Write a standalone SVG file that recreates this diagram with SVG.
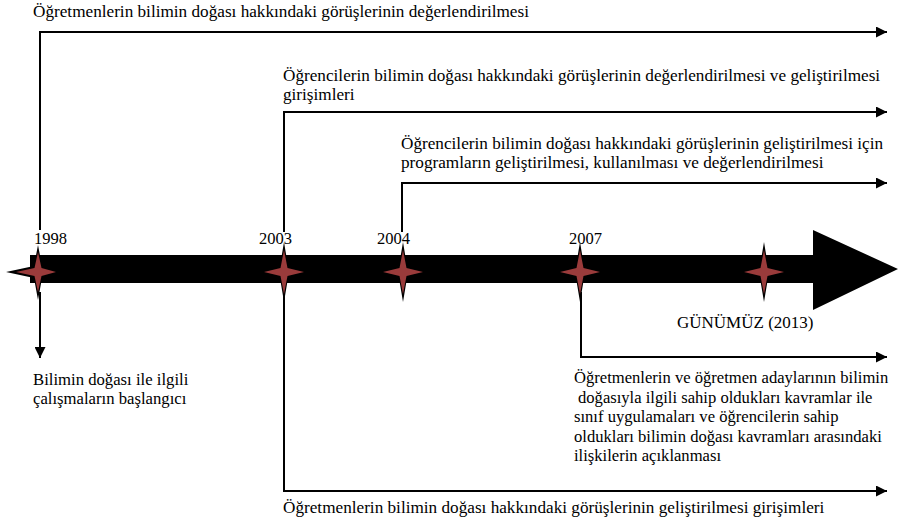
<svg xmlns="http://www.w3.org/2000/svg" width="906" height="523" viewBox="0 0 906 523">
<defs>
<style>
.c{fill:none;stroke:#000;stroke-width:2}
.st{fill:#9a3b3b}
</style>
<marker id="ah" viewBox="0 0 10 10" refX="10" refY="5" markerWidth="11" markerHeight="11" markerUnits="userSpaceOnUse" orient="auto">
<path d="M0,0 L10,5 L0,10 Z" fill="#000"/>
</marker>
<g id="star">
<path d="M0,-30 L4,-6 L22,0 L4,6 L0,30 L-4,6 L-22,0 L-4,-6 Z" fill="#000"/>
<path class="st" d="M0,-22 L3.5,-4 L20,0 L3.5,4 L0,22 L-3.5,4 L-20,0 L-3.5,-4 Z"/>
</g>
</defs>
<rect width="906" height="523" fill="#fff"/>
<g id="timeline">
<path d="M30,255 L813,255 L813,230 L898,269 L813,310 L813,283 L30,283 Z" fill="#000"/>
</g>
<g id="connectors">
<path class="c" d="M40,230 L40,32 L887,32" marker-end="url(#ah)"/>
<path class="c" d="M40,292 L40,358" marker-end="url(#ah)"/>
<path class="c" d="M284,232 L284,112 L887,112" marker-end="url(#ah)"/>
<path class="c" d="M284,292 L284,491 L887,491" marker-end="url(#ah)"/>
<path class="c" d="M402,232 L402,183 L887,183" marker-end="url(#ah)"/>
<path class="c" d="M581,292 L581,357 L887,357" marker-end="url(#ah)"/>
</g>
<g font-family="Liberation Serif, serif" font-size="17.2" fill="#000">
<g id="n1998">
<g transform="translate(38,272)">
<path d="M0,-27 L4,-6 L20,0 L4,6 L0,28 L-4,6 L-32,0 L-4,-6 Z" fill="#000"/>
<path class="st" d="M0,-20 L3.5,-4 L18,0 L3.5,4 L0,20 L-3.5,4 L-22,0 L-3.5,-4 Z"/>
</g>
<text x="34" y="244" font-size="16.5">1998</text>
</g>
<g id="n2003"><use href="#star" x="284" y="272"/><text x="259" y="244" font-size="16.5">2003</text></g>
<g id="n2004"><use href="#star" x="403" y="272"/><text x="377" y="244" font-size="16.5">2004</text></g>
<g id="n2007"><use href="#star" x="580" y="272"/><text x="569" y="244" font-size="16.5">2007</text></g>
<g id="n2013"><use href="#star" x="764" y="272"/><text x="677" y="328" font-size="17">GÜNÜMÜZ (2013)</text></g>
<g id="t1"><text x="33" y="17">Öğretmenlerin bilimin doğası hakkındaki görüşlerinin değerlendirilmesi</text></g>
<g id="t2"><text x="283" y="81">Öğrencilerin bilimin doğası hakkındaki görüşlerinin değerlendirilmesi ve geliştirilmesi</text><text x="283" y="100">girişimleri</text></g>
<g id="t3"><text x="401" y="149">Öğrencilerin bilimin doğası hakkındaki görüşlerinin geliştirilmesi için</text><text x="401" y="168">programların geliştirilmesi, kullanılması ve değerlendirilmesi</text></g>
<g id="t4" font-size="16.7"><text x="33" y="385">Bilimin doğası ile ilgili</text><text x="33" y="404">çalışmaların başlangıcı</text></g>
<g id="t5" font-size="16.6">
<text x="574" y="383">Öğretmenlerin ve öğretmen adaylarının bilimin</text>
<text x="578" y="403">doğasıyla ilgili sahip oldukları kavramlar ile</text>
<text x="574" y="422">sınıf uygulamaları ve öğrencilerin sahip</text>
<text x="574" y="442">oldukları bilimin doğası kavramları arasındaki</text>
<text x="574" y="461">ilişkilerin açıklanması</text>
</g>
<g id="t6"><text x="283" y="513">Öğretmenlerin bilimin doğası hakkındaki görüşlerinin geliştirilmesi girişimleri</text></g>
</g>
</svg>
